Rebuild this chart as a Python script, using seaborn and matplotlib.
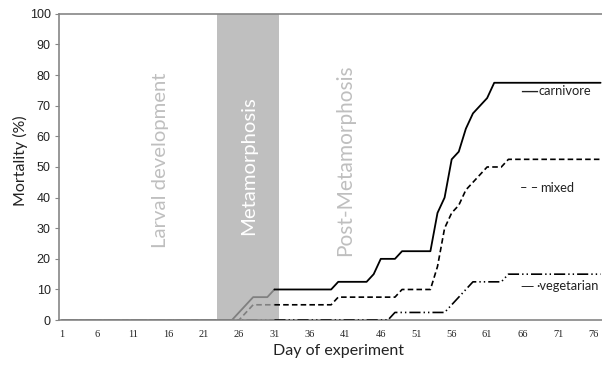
#%%
import numpy as np
import pandas as pd
import matplotlib.pyplot as plt
import seaborn as sns

#%%
# data, one value per day of experiment
days = list(range(1, 78))
carnivore = ([0] * 25 + [2.5, 5, 7.5, 7.5, 7.5, 10] + [10] * 8 + [12.5] * 5
             + [15, 20, 20, 20] + [22.5] * 5
             + [35, 40, 52.5, 55, 62.5, 67.5, 70, 72.5] + [77.5] * 16)
mixed = ([0] * 26 + [2.5, 5] + [5] * 11 + [7.5] * 9 + [10] * 5
         + [17.5, 30, 35, 37.5, 42.5, 45, 47.5] + [50] * 3 + [52.5] * 14)
vegetarian = ([0] * 47 + [2.5] * 8 + [5, 7.5, 10, 12.5] + [12.5] * 4 + [15] * 14)

xticks = list(range(1, 78, 5))
yticks = list(range(0, 101, 10))
phases = ["Larval development", "Metamorphosis", "Post-Metamorphosis"]
series_labels = ["carnivore", "mixed", "\u00b7vegetarian"]
series_keys = ["\u2014", "\u2013 \u2013", "\u2014"]

df = pd.DataFrame({"day": days, "carnivore": carnivore, "mixed": mixed,
                   "vegetarian": vegetarian})

#%%
sns.set_style("white")
plt.rcParams['font.family'] = ['Lato', 'DejaVu Sans']
plt.rcParams['lines.scale_dashes'] = False

fig = plt.figure(figsize=(6.02, 3.65), dpi=100)
ax = fig.add_axes([0.098, 0.123, 0.902, 0.839])

# metamorphosis band
ax.axvspan(22.9, 31.6, color="#bfbfbf", lw=0, zorder=0)

styles = {
    "carnivore": (None, 1.3),
    "mixed": ((0, (4, 2.3)), 1.2),
    "vegetarian": ((0, (8, 2.2, 1, 2.2, 1, 2.2)), 1.2),
}
early = df[df["day"] <= 31]
late = df[df["day"] >= 31]
for name, (ls, lw) in styles.items():
    kw = dict(lw=lw)
    if ls is not None:
        kw["linestyle"] = ls
    sns.lineplot(data=early, x="day", y=name, color="#808080", ax=ax, zorder=3, **kw)
    sns.lineplot(data=late, x="day", y=name, color="black", ax=ax, zorder=3, **kw)

ax.set_xlim(0.62, 77.2)
ax.set_ylim(0, 100)
ax.set_xticks(xticks)
ax.set_xticklabels([str(t) for t in xticks], family="Liberation Serif", fontsize=7.5)
ax.set_yticks(yticks)
ax.set_yticklabels([str(t) for t in yticks], family="Liberation Sans", fontsize=9)
ax.tick_params(axis="x", length=0, pad=7, colors="#222222")
ax.tick_params(axis="y", length=3, width=0.8, pad=3, left=True, colors="#222222")
ax.tick_params(axis="y", color="#868686")

for side in ["left", "top", "bottom"]:
    ax.spines[side].set_color("#868686")
    ax.spines[side].set_linewidth(1.2)
ax.spines["right"].set_visible(False)

ax.set_xlabel("Day of experiment", fontsize=11.5, color="#222222")
ax.set_ylabel("Mortality (%)", fontsize=11.5, color="#222222")
ax.xaxis.set_label_coords(0.514, -0.078)
ax.yaxis.set_label_coords(-0.058, 0.52)

# phase names
ax.text(14.9, 52.3, phases[0], rotation=90, ha="center", va="center",
        color="#bfbfbf", fontsize=14.6)
ax.text(27.3, 50.3, phases[1], rotation=90, ha="center", va="center",
        color="white", fontsize=14.6)
ax.text(41.0, 52.3, phases[2], rotation=90, ha="center", va="center",
        color="#bfbfbf", fontsize=15)

# series labels with their little line keys
label_x = [68.3, 68.5, 68.0]
key_gap = [0.05, 0.35, 0.45]
key_size = [13, 9.3, 9.5]
key_font = ["DejaVu Sans", "Lato", "DejaVu Sans"]
for lab, key, lx, kg, ks, kf, yv in zip(series_labels, series_keys, label_x, key_gap,
                                        key_size, key_font, [74.8, 43.1, 11.1]):
    ax.text(lx, yv, lab, ha="left", va="center", fontsize=9.3, color="#222222")
    ax.text(lx - kg, yv, key, ha="right", va="center", fontsize=ks,
            family=kf, color="#222222")

plt.savefig("out.png", dpi=100)
# %%
